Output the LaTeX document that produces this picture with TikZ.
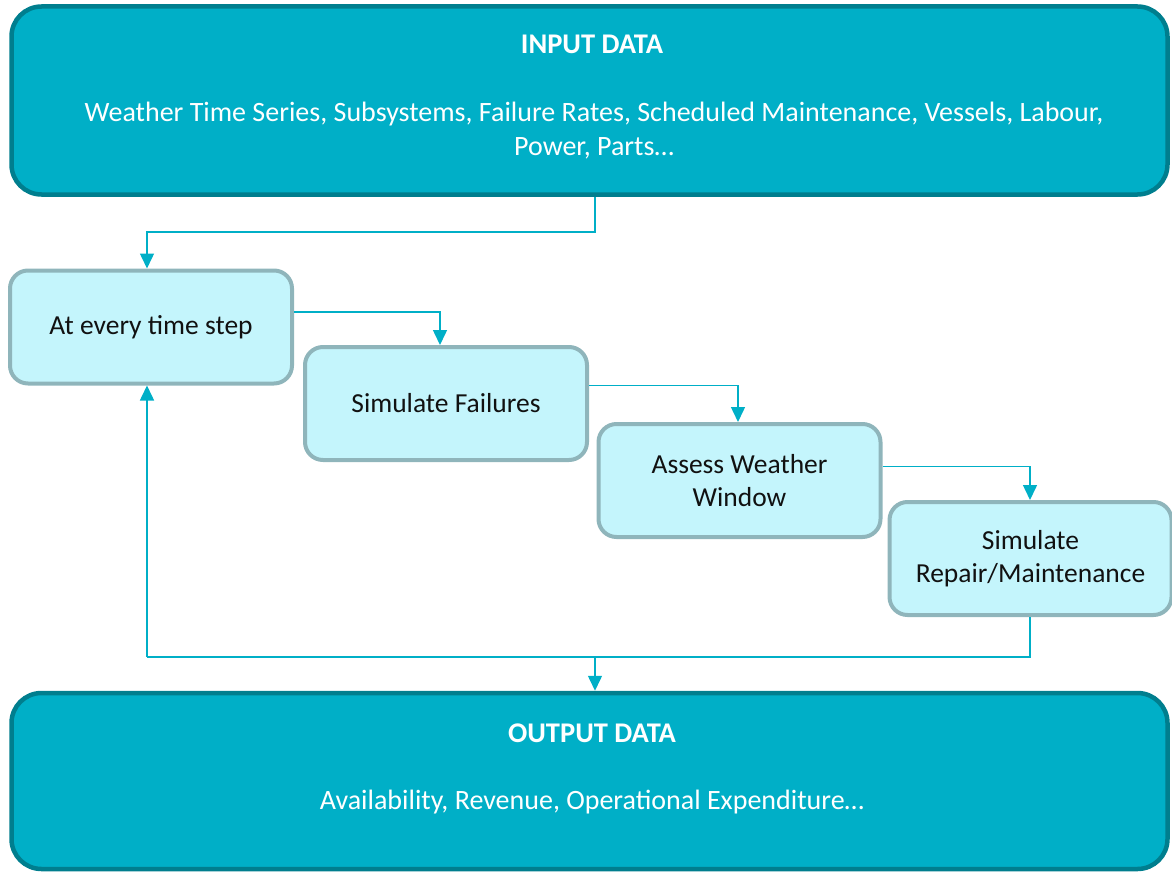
\documentclass[tikz,border=0pt]{standalone}
\usepackage{fontspec}
\setmainfont{Carlito}
\usetikzlibrary{arrows.meta,positioning}

\definecolor{bigfill}{HTML}{00AFC7}
\definecolor{bigedge}{HTML}{007E8E}
\definecolor{stepfill}{HTML}{C4F5FC}
\definecolor{stepedge}{HTML}{8FB5BB}
\definecolor{flow}{HTML}{00AFC7}
\definecolor{ink}{HTML}{111111}

\tikzset{
  databox/.style={draw=bigedge, fill=bigfill, line width=4.5pt,
    rounded corners=30pt, minimum width=1156pt, minimum height=188pt,
    inner sep=0pt},
  outbox/.style={databox, minimum height=176pt},
  boxtitle/.style={text=white, font=\fontsize{28.5}{32}\selectfont\bfseries},
  boxbody/.style={text=white, font=\fontsize{28}{34}\selectfont, align=center},
  stepbox/.style={draw=stepedge, fill=stepfill, line width=4pt,
    rounded corners=18pt, minimum width=282pt, minimum height=113pt,
    inner sep=2pt, text=ink, align=center,
    font=\fontsize{27.5}{33}\selectfont},
  flowline/.style={draw=flow, line width=1.5pt},
  flowarrow/.style={flowline, -{Triangle[width=14pt,length=15pt]}},
}

\begin{document}
\begin{tikzpicture}[x=1pt,y=-1pt]
  \useasboundingbox (0,0) rectangle (1172,872);

  % input block
  \node[databox] (inp) at (589.5,100.5) {};
  \node[boxtitle] (inptitle) at (592,44) {INPUT DATA};
  \node[boxbody] (inpbody) at (594,130.5)
    {Weather Time Series, Subsystems, Failure Rates, Scheduled Maintenance, Vessels, Labour,\\
     Power, Parts\ldots};

  % output block
  \node[outbox] (out) at (589.5,781) {};
  \node[boxtitle] (outtitle) at (592,733) {OUTPUT DATA};
  \node[boxbody] (outbody) at (592,802)
    {Availability, Revenue, Operational Expenditure\ldots};

  % simulation steps
  \node[stepbox] (s1) at (151,327)    {At every time step};
  \node[stepbox] (s2) at (446,403.5)  {Simulate Failures};
  \node[stepbox] (s3) at (739.5,480.5){Assess Weather\\Window};
  \node[stepbox] (s4) at (1030.5,558.5){Simulate\\Repair/Maintenance};

  % routing points
  \coordinate (inpdrop) at (595,232);
  \coordinate (loopR) at (1030,657);
  \coordinate (loopL) at (147,657);
  \coordinate (loopM) at (595,657);

  % input to first step
  \draw[flowarrow] (inp.south -| inpdrop) -- (inpdrop) -| ([xshift=-4pt]s1.north);

  % step chain
  \draw[flowarrow] ([yshift=15pt]s1.east) -| ([xshift=-6pt]s2.north);
  \draw[flowarrow] ([yshift=18pt]s2.east) -| ([xshift=-1.5pt]s3.north);
  \draw[flowarrow] ([yshift=14pt]s3.east) -| ([xshift=-0.5pt]s4.north);

  % feedback loop and output
  \draw[flowline] (s4.south -| loopR) -- (loopR) -- (loopL);
  \draw[flowarrow] (loopL) -- ([xshift=-4pt]s1.south);
  \draw[flowarrow] (loopM) -- (out.north -| loopM);
\end{tikzpicture}
\end{document}
